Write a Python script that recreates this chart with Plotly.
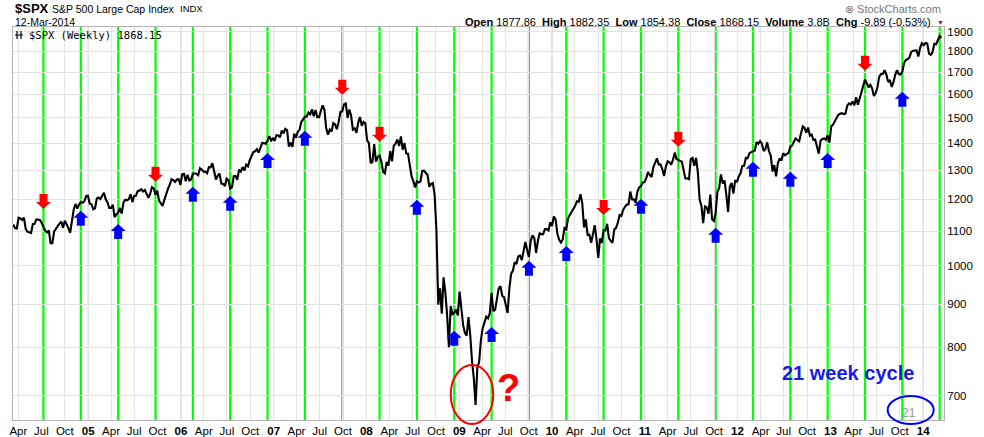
import pandas as pd
import plotly.graph_objects as go

# ---------------- data (weekly closes) ----------------
close_2004 = [1120, 1109, 1108, 1141, 1139, 1134, 1141, 1107, 1098, 1096, 1094, 1121, 1122, 1136, 1135,
              1134, 1125, 1112, 1101, 1096, 1102, 1064, 1064, 1099, 1108, 1113, 1123, 1129, 1110, 1132,
              1122, 1109, 1095, 1130, 1167, 1185, 1170, 1183, 1191, 1189, 1194, 1211, 1212]
close_2005 = [1186, 1184, 1168, 1171, 1203, 1206, 1201, 1211, 1222, 1200, 1190, 1172, 1172, 1182, 1143,
              1152, 1157, 1172, 1154, 1190, 1199, 1197, 1201, 1217, 1191, 1211, 1212, 1228, 1229, 1234,
              1226, 1231, 1220, 1205, 1218, 1241, 1237, 1215, 1229, 1196, 1187, 1179, 1199, 1220, 1235,
              1249, 1268, 1265, 1259, 1267, 1268, 1248]
close_2006 = [1285, 1287, 1261, 1284, 1264, 1267, 1287, 1289, 1287, 1282, 1307, 1302, 1295, 1295, 1289,
              1311, 1310, 1325, 1291, 1267, 1280, 1288, 1253, 1252, 1245, 1270, 1265, 1236, 1240, 1279,
              1280, 1266, 1302, 1295, 1311, 1299, 1320, 1314, 1336, 1350, 1366, 1369, 1377, 1364, 1380,
              1401, 1400, 1397, 1409, 1427, 1410, 1418]
close_2007 = [1409, 1431, 1430, 1423, 1449, 1438, 1456, 1451, 1387, 1402, 1386, 1437, 1421, 1444, 1452,
              1484, 1494, 1505, 1505, 1522, 1515, 1536, 1507, 1533, 1503, 1503, 1530, 1553, 1534, 1458,
              1433, 1453, 1445, 1479, 1474, 1454, 1484, 1525, 1527, 1557, 1561, 1500, 1535, 1509, 1453,
              1458, 1440, 1481, 1504, 1468, 1484, 1478]
close_2008 = [1411, 1401, 1325, 1330, 1396, 1331, 1349, 1353, 1331, 1294, 1289, 1330, 1316, 1370, 1332,
              1390, 1398, 1414, 1389, 1426, 1375, 1400, 1361, 1360, 1318, 1278, 1262, 1240, 1261, 1257,
              1260, 1297, 1298, 1292, 1283, 1242, 1252, 1255, 1213, 1099, 899, 940, 877, 969, 930,
              873, 800, 896, 876, 879, 887, 873]
close_2009 = [932, 890, 850, 832, 826, 869, 827, 770, 735, 683, 757, 768, 816, 843, 857,
              870, 866, 878, 929, 883, 887, 919, 940, 946, 921, 918, 896, 879, 940, 979,
              987, 1010, 1005, 1026, 1029, 1016, 1042, 1068, 1044, 1025, 1071, 1087, 1080, 1036, 1069,
              1093, 1091, 1091, 1106, 1106, 1102, 1127, 1115]
close_2010 = [1145, 1136, 1092, 1074, 1066, 1075, 1109, 1105, 1139, 1150, 1160, 1167, 1179, 1194, 1192,
              1217, 1187, 1111, 1136, 1088, 1089, 1065, 1092, 1118, 1076, 1022, 1078, 1065, 1103, 1102,
              1122, 1079, 1071, 1065, 1105, 1110, 1126, 1149, 1147, 1166, 1176, 1183, 1183, 1226, 1200,
              1200, 1189, 1225, 1240, 1244, 1257, 1258]
close_2011 = [1272, 1293, 1283, 1276, 1311, 1329, 1343, 1320, 1321, 1304, 1279, 1313, 1332, 1328, 1320,
              1337, 1364, 1340, 1338, 1333, 1331, 1300, 1271, 1271, 1268, 1340, 1344, 1316, 1345, 1292,
              1199, 1179, 1124, 1177, 1174, 1154, 1216, 1136, 1131, 1155, 1225, 1238, 1285, 1253, 1264,
              1216, 1159, 1244, 1255, 1219, 1265, 1258]
close_2012 = [1278, 1289, 1315, 1316, 1345, 1343, 1362, 1366, 1370, 1371, 1404, 1397, 1408, 1398, 1370,
              1378, 1403, 1369, 1353, 1295, 1318, 1278, 1325, 1343, 1335, 1362, 1354, 1357, 1363, 1386,
              1391, 1405, 1418, 1411, 1407, 1438, 1466, 1460, 1441, 1461, 1429, 1433, 1412, 1414, 1380,
              1360, 1409, 1416, 1418, 1413, 1430, 1402]
close_2013 = [1466, 1472, 1486, 1503, 1513, 1518, 1520, 1516, 1518, 1551, 1561, 1556, 1569, 1553, 1588,
              1555, 1582, 1614, 1634, 1667, 1650, 1631, 1643, 1627, 1593, 1606, 1632, 1680, 1692, 1692,
              1710, 1691, 1656, 1664, 1633, 1655, 1688, 1710, 1692, 1690, 1703, 1745, 1759, 1762, 1771,
              1798, 1804, 1806, 1805, 1775, 1818, 1841]
close_2014 = [1831, 1842, 1839, 1790, 1783, 1797, 1838, 1836, 1859, 1878, 1868]

first_friday = ["2004-03-12", "2005-01-07", "2006-01-06", "2007-01-05", "2008-01-04", "2009-01-02",
                "2010-01-08", "2011-01-07", "2012-01-06", "2013-01-04", "2014-01-03"]
yearly_closes = [close_2004, close_2005, close_2006, close_2007, close_2008, close_2009,
                 close_2010, close_2011, close_2012, close_2013, close_2014]

# 21-week cycle lines
cycle_dates = ["2004-07-09", "2004-12-03", "2005-04-29", "2005-09-23", "2006-02-17", "2006-07-14",
               "2006-12-08", "2007-05-04", "2007-09-28", "2008-02-22", "2008-07-18", "2008-12-12",
               "2009-05-08", "2009-10-02", "2010-02-26", "2010-07-23", "2010-12-17", "2011-05-13",
               "2011-10-07", "2012-03-02", "2012-07-27", "2012-12-21", "2013-05-17", "2013-10-11",
               "2014-03-07"]

# analyst arrows (date, price at the arrow tip)
red_arrow_dates = ["2004-07-09", "2005-09-23", "2007-09-28", "2008-02-22", "2010-07-23", "2011-05-13",
                   "2013-05-17"]
red_arrow_prices = [1169, 1259, 1599, 1405, 1150, 1386, 1707]
blue_arrow_dates = ["2004-12-03", "2005-04-29", "2006-02-17", "2006-07-14", "2006-12-08", "2007-05-04",
                    "2008-07-18", "2008-12-12", "2009-05-08", "2009-10-02", "2010-02-26", "2010-12-17",
                    "2011-10-07", "2012-03-02", "2012-07-27", "2012-12-21", "2013-10-11"]
blue_arrow_prices = [1163, 1122, 1242, 1212, 1363, 1448, 1199, 837, 846, 1014, 1056, 1202,
                     1110, 1330, 1294, 1363, 1612]

y_ticks = [700, 800, 900, 1000, 1100, 1200, 1300, 1400, 1500, 1600, 1700, 1800, 1900]
month_names = {4: "Apr", 7: "Jul", 10: "Oct"}

# ---------------- build ----------------
dates, closes = [], []
for start, vals in zip(first_friday, yearly_closes):
    dates.extend(pd.date_range(start=start, periods=len(vals), freq="W-FRI"))
    closes.extend(vals)

x_range = ["2004-03-11", "2014-03-24"]
tick_vals, tick_text = [], []
for yr in range(2004, 2015):
    for m in (1, 4, 7, 10):
        d = pd.Timestamp(yr, m, 1)
        if pd.Timestamp(x_range[0]) < d < pd.Timestamp(x_range[1]):
            tick_vals.append(d)
            tick_text.append(f"<b>{yr % 100:02d}</b>" if m == 1 else month_names[m])

W, H = 984, 437
ML, MR, MT, MB = 13, 40, 27, 17
PW, PH = W - ML - MR, H - MT - MB


def px(x):
    return (x - ML) / PW


def py(y):
    return (H - MB - y) / PH


fig = go.Figure()
fig.add_trace(go.Scatter(x=dates, y=closes, mode="lines",
                         line=dict(color="black", width=2.1), hoverinfo="skip", showlegend=False))

shapes = []
for yr in range(2005, 2015):
    shapes.append(dict(type="line", xref="x", yref="paper", x0=f"{yr}-01-01", x1=f"{yr}-01-01",
                       y0=0, y1=1, line=dict(color="#c4c4c4", width=1), layer="between"))
for d in cycle_dates:
    shapes.append(dict(type="line", xref="x", yref="paper", x0=d, x1=d, y0=0, y1=1,
                       line=dict(color="#00ff00", width=2.2), layer="between"))

down_path = "M0,0 L-7.5,7 L-4,7 L-4,15 L4,15 L4,7 L7.5,7 Z"
up_path = "M0,0 L-7.5,-7 L-4,-7 L-4,-15 L4,-15 L4,-7 L7.5,-7 Z"
for d, p in zip(red_arrow_dates, red_arrow_prices):
    shapes.append(dict(type="path", xref="x", yref="y", xsizemode="pixel", ysizemode="pixel",
                       xanchor=d, yanchor=p, path=down_path, fillcolor="#ff0000",
                       line=dict(width=0), layer="above"))
for d, p in zip(blue_arrow_dates, blue_arrow_prices):
    shapes.append(dict(type="path", xref="x", yref="y", xsizemode="pixel", ysizemode="pixel",
                       xanchor=d, yanchor=p, path=up_path, fillcolor="#0000ff",
                       line=dict(width=0), layer="above"))

# red ellipse around the 2009 low, blue ellipse round the "21"
shapes.append(dict(type="circle", xref="paper", yref="paper", x0=px(450.7), x1=px(493.3),
                   y0=py(424), y1=py(365), line=dict(color="#ff0000", width=2)))
shapes.append(dict(type="circle", xref="paper", yref="paper", x0=px(887.7), x1=px(933.7),
                   y0=py(424), y1=py(396), line=dict(color="#0000ff", width=2)))

# legend icon
shapes.append(dict(type="line", xref="paper", yref="paper", x0=px(17), x1=px(17), y0=py(39), y1=py(31),
                   line=dict(color="black", width=1.2)))
shapes.append(dict(type="line", xref="paper", yref="paper", x0=px(21), x1=px(21), y0=py(39), y1=py(31),
                   line=dict(color="black", width=1.2)))
shapes.append(dict(type="line", xref="paper", yref="paper", x0=px(15), x1=px(23), y0=py(35), y1=py(35),
                   line=dict(color="black", width=1)))

F = "Liberation Sans, Arial, sans-serif"
annotations = [
    dict(x=px(13), y=py(9), text="<b>$SPX</b>", font=dict(family=F, size=13, color="black"),
         xanchor="left", yanchor="middle"),
    dict(x=px(50), y=py(9), text="S&P 500 Large Cap Index", font=dict(family=F, size=10.5, color="black"),
         xanchor="left", yanchor="middle"),
    dict(x=px(178), y=py(9), text="INDX", font=dict(family=F, size=9.5, color="black"),
         xanchor="left", yanchor="middle"),
    dict(x=px(13), y=py(22.5), text="12-Mar-2014", font=dict(family=F, size=10.5, color="black"),
         xanchor="left", yanchor="middle"),
    dict(x=px(933), y=py(22.5),
         text="<b>Open</b> 1877.86  <b>High</b> 1882.35  <b>Low</b> 1854.38  <b>Close</b> 1868.15  "
              "<b>Volume</b> 3.8B  <b>Chg</b> -9.89 (-0.53%)",
         font=dict(family=F, size=11, color="black"), xanchor="right", yanchor="middle"),
    dict(x=px(940), y=py(23), text="▼", font=dict(family=F, size=7, color="#8b1a3a"),
         xanchor="center", yanchor="middle"),
    dict(x=px(943), y=py(9.5), text="⊗ StockCharts.com", font=dict(family=F, size=11, color="#777777"),
         xanchor="right", yanchor="middle"),
    dict(x=px(27), y=py(35), text="$SPX (Weekly) 1868.15",
         font=dict(family="DejaVu Sans Mono, monospace", size=10.5, color="black"),
         xanchor="left", yanchor="middle"),
    dict(x=px(509), y=py(388), text="<b>?</b>", font=dict(family=F, size=38, color="#ff0000"),
         xanchor="center", yanchor="middle"),
    dict(x=px(847.5), y=py(372.5), text="<b>21 week cycle</b>", font=dict(family=F, size=20, color="#1a1ae6"),
         xanchor="center", yanchor="middle"),
    dict(x=px(909), y=py(413), text="21", font=dict(family=F, size=12, color="#999999"),
         xanchor="center", yanchor="middle"),
]
for a in annotations:
    a.update(xref="paper", yref="paper", showarrow=False)

fig.update_layout(
    width=W, height=H,
    margin=dict(l=ML, r=MR, t=MT, b=MB, pad=0),
    paper_bgcolor="white", plot_bgcolor="white",
    shapes=shapes, annotations=annotations, showlegend=False,
    xaxis=dict(type="date", range=x_range, tickmode="array", tickvals=tick_vals, ticktext=tick_text,
               showgrid=True, gridcolor="#e3e3e3", gridwidth=1, ticks="", zeroline=False,
               showline=True, linecolor="#b4b4b4", linewidth=1, mirror=True, automargin=False,
               tickfont=dict(family=F, size=11.5, color="black")),
    yaxis=dict(type="log", range=[2.8165, 3.2844], side="right", tickmode="array", tickvals=y_ticks,
               ticktext=[str(v) for v in y_ticks], showgrid=True, gridcolor="#e3e3e3", gridwidth=1,
               ticks="", zeroline=False, showline=True, linecolor="#b4b4b4", linewidth=1, mirror=True,
               automargin=False, tickfont=dict(family=F, size=11.5, color="black")),
)

fig.write_html("out.html", config={"displayModeBar": False},
               post_script="document.body.style.margin='0';document.body.style.padding='0';"
                           "document.body.style.overflow='hidden';")
